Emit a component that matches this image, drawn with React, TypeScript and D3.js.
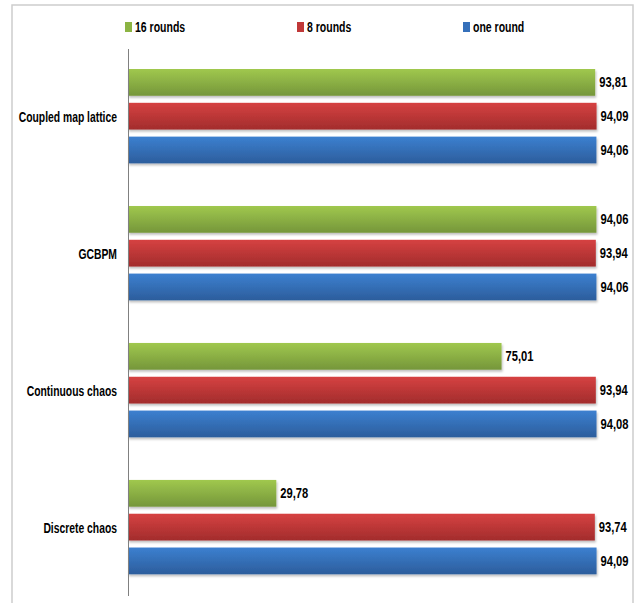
import React from "react";
import * as d3 from "d3";

const categories = ["Coupled map lattice", "GCBPM", "Continuous chaos", "Discrete chaos"];
const seriesNames = ["16 rounds", "8 rounds", "one round"];
const rounds16 = [93.81, 94.06, 75.01, 29.78];
const rounds8 = [94.09, 93.94, 93.94, 93.74];
const oneRound = [94.06, 94.06, 94.08, 94.09];
const seriesValues = [rounds16, rounds8, oneRound];

const W = 641;
const H = 603;
const FONT = "'Liberation Sans', Arial, sans-serif";

const palettes = [
  { top: "#a0c84e", bottom: "#75963a", key: "#8cb443" },
  { top: "#d64242", bottom: "#a22c2c", key: "#c03838" },
  { top: "#3c80d0", bottom: "#2c5d9c", key: "#3570ba" },
];

function fmt(v: number) {
  return v.toFixed(2).replace(".", ",");
}

// Bold condensed label: horizontally squeezed around its anchor point
function Label({
  x,
  y,
  anchor = "start",
  squeeze = 0.75,
  children,
}: {
  x: number;
  y: number;
  anchor?: "start" | "end";
  squeeze?: number;
  children: React.ReactNode;
}) {
  return (
    <text
      transform={`translate(${x},${y}) scale(${squeeze},1)`}
      dy="0.36em"
      textAnchor={anchor}
      fontSize={14}
      fill="#000"
    >
      {children}
    </text>
  );
}

export default function App() {
  const x = d3.scaleLinear().domain([0, 100]).range([128, 626]);
  const y0 = d3.scaleBand<string>().domain(categories).range([69, 574.3]).paddingInner(0.311).paddingOuter(0);
  const y1 = d3
    .scaleBand<string>()
    .domain(seriesNames)
    .range([0, y0.bandwidth()])
    .paddingInner(0.208)
    .paddingOuter(0);

  const legendX = [125, 297, 463];

  return (
    <svg
      width={W}
      height={H}
      style={{ position: "absolute", left: 0, top: 0, background: "#fff" }}
      fontFamily={FONT}
      fontWeight="bold"
    >
      <defs>
        {palettes.map((p, i) => (
          <linearGradient key={i} id={`grad${i}`} x1="0" y1="0" x2="0" y2="1">
            <stop offset="0%" stopColor={p.top} />
            <stop offset="100%" stopColor={p.bottom} />
          </linearGradient>
        ))}
        <filter id="shadow" x="-5%" y="-20%" width="110%" height="160%">
          <feDropShadow dx="1" dy="2" stdDeviation="1" floodColor="#000" floodOpacity="0.25" />
        </filter>
      </defs>

      {/* chart frame */}
      <rect x={12} y={5} width={621} height={640} fill="none" stroke="#cdcdcd" strokeWidth={1.5} />

      {/* legend */}
      {seriesNames.map((name, i) => (
        <g key={name}>
          <rect x={legendX[i]} y={22} width={7} height={10} fill={palettes[i].key} />
          <Label x={legendX[i] + 10} y={27}>
            {name}
          </Label>
        </g>
      ))}

      {/* bars */}
      {categories.map((cat, ci) => {
        const gy = y0(cat) as number;
        return (
          <g key={cat}>
            {seriesNames.map((s, si) => {
              const v = seriesValues[si][ci];
              const by = gy + (y1(s) as number);
              const bh = y1.bandwidth();
              return (
                <g key={s}>
                  <rect
                    x={x(0)}
                    y={by}
                    width={x(v) - x(0)}
                    height={bh}
                    fill={`url(#grad${si})`}
                    filter="url(#shadow)"
                  />
                  <Label x={x(v) + 4} y={by + bh / 2} squeeze={0.8}>
                    {fmt(v)}
                  </Label>
                </g>
              );
            })}
            <Label x={117} y={gy + y0.bandwidth() / 2 + 1} anchor="end" squeeze={0.74}>
              {cat}
            </Label>
          </g>
        );
      })}

      {/* category axis */}
      <line x1={128.5} x2={128.5} y1={49} y2={596} stroke="#808080" strokeWidth={1} />
    </svg>
  );
}
